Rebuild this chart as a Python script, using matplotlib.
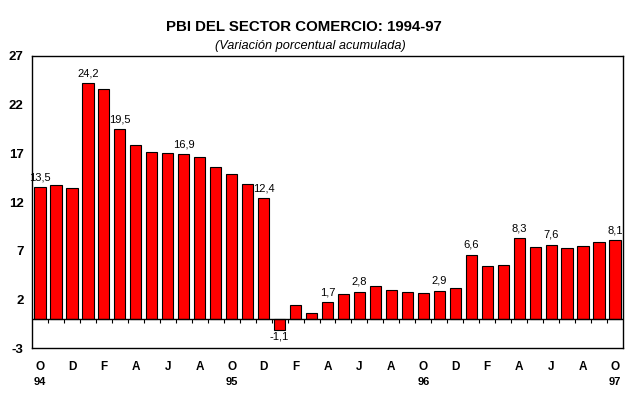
import numpy as np
import matplotlib
matplotlib.use('Agg')
import matplotlib.pyplot as plt
from matplotlib.transforms import blended_transform_factory

# monthly accumulated variation, Oct 94 .. Oct 97
values = [13.5, 13.7, 13.4, 24.2, 23.6, 19.5, 17.9, 17.1, 17.0, 16.9, 16.6, 15.6,
          14.9, 13.9, 12.4, -1.1, 1.4, 0.6, 1.7, 2.6, 2.8, 3.4, 3.0, 2.8,
          2.7, 2.9, 3.2, 6.6, 5.4, 5.5, 8.3, 7.4, 7.6, 7.3, 7.5, 7.9, 8.1]
# bars that carry a value label
labelled = [0, 3, 5, 9, 14, 15, 18, 20, 25, 27, 30, 32, 36]
month_letters = ['O', 'D', 'F', 'A', 'J', 'A', 'O', 'D', 'F', 'A',
                 'J', 'A', 'O', 'D', 'F', 'A', 'J', 'A', 'O']
years = ['94', '95', '96', '97']
year_pos = [0, 12, 24, 36]

plt.rcParams['font.family'] = ['Liberation Sans', 'DejaVu Sans']
narrow = ['Liberation Sans Narrow', 'Liberation Sans']

fig = plt.figure(figsize=(6.28, 3.98), dpi=100)
ax = fig.add_axes([0.051, 0.1256, 0.941, 0.7337])

x = np.arange(len(values))
ax.bar(x, values, width=0.7, color='#ff0000', edgecolor='black', linewidth=0.8, zorder=3)

ax.set_xlim(-0.5, len(values) - 0.5)
ax.set_ylim(-3, 27)
ax.set_yticks(np.arange(-3, 28, 5))
ax.set_yticklabels([str(v) for v in range(-3, 28, 5)], fontsize=9.5, fontweight='bold',
                   family=narrow)
ax.tick_params(axis='y', length=0, pad=6)
ax.set_xticks([])

for s in ax.spines.values():
    s.set_linewidth(1.0)

# zero line with small ticks between bars
ax.axhline(0, color='black', linewidth=1.0, zorder=4)
ax.vlines(x[:-1] + 0.5, -0.4, 0, color='black', linewidth=0.8, zorder=4)

for i in labelled:
    v = values[i]
    txt = ('%.1f' % v).replace('.', ',')
    if v >= 0:
        ax.text(i, v + 0.5, txt, ha='center', va='bottom', fontsize=8)
    else:
        ax.text(i, v - 0.2, txt, ha='center', va='top', fontsize=8)

trans = blended_transform_factory(ax.transData, ax.transAxes)
for k, m in enumerate(month_letters):
    ax.text(2 * k, -0.065, m, transform=trans, ha='center', va='center',
            fontsize=8.5, fontweight='bold', family=narrow)
for p, yv in zip(year_pos, years):
    ax.text(p, -0.116, yv, transform=trans, ha='center', va='center',
            fontsize=8, fontweight='bold', family=narrow)

fig.text(0.484, 0.932, 'PBI DEL SECTOR COMERCIO: 1994-97', ha='center', va='center',
         fontsize=10.8, fontweight='bold')
fig.text(0.494, 0.884, '(Variación porcentual acumulada)', ha='center', va='center',
         fontsize=9.2, style='italic')

fig.savefig('out.png', dpi=100)
